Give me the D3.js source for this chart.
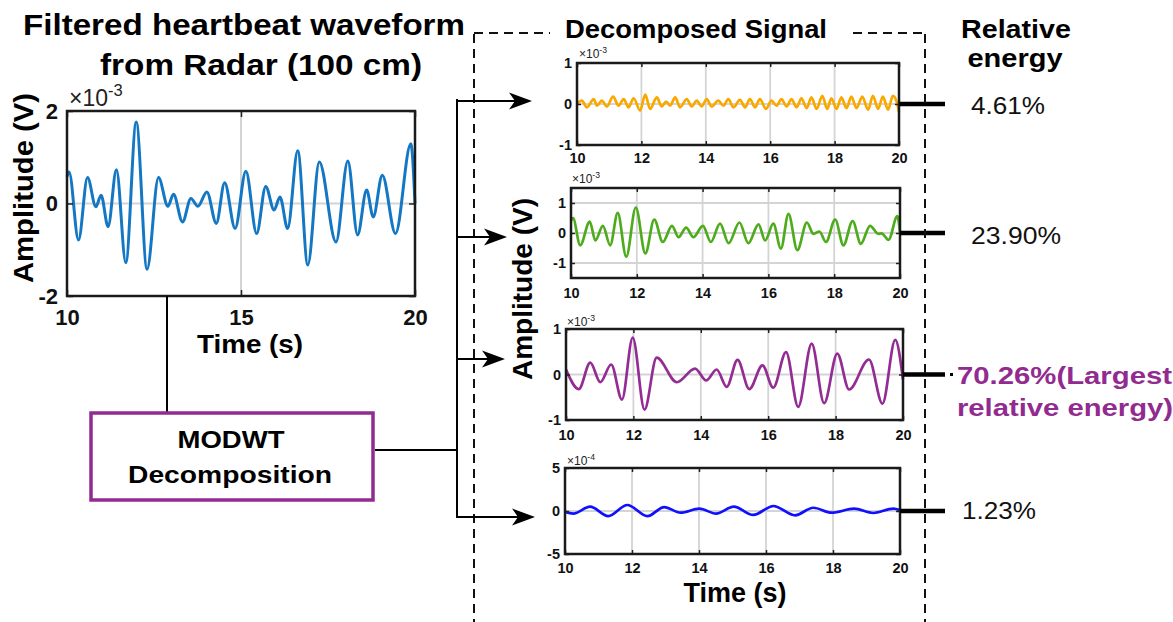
<!DOCTYPE html>
<html>
<head>
<meta charset="utf-8">
<script src="https://cdn.jsdelivr.net/npm/d3@7/dist/d3.min.js"></script>
<style>
  html, body { margin: 0; padding: 0; background: #fff; }
  svg { display: block; font-family: "Liberation Sans", Arial, Helvetica, sans-serif; }
</style>
</head>
<body>
<svg id="fig" width="1173" height="622"></svg>
<script>
// ---- Filtered radar heartbeat waveform (amplitude in units of 1e-3 V) ----
const rawTime = [10.00,10.06,10.33,10.59,10.83,10.98,11.18,11.42,11.69,11.99,12.30,12.63,12.90,13.06,13.32,13.56,13.76,14.02,14.29,14.53,14.83,15.14,15.45,15.71,15.95,16.12,16.34,16.63,16.92,17.25,17.73,18.07,18.35,18.61,18.80,19.06,19.44,19.88,20.00];
const rawAmp  = [0.58,0.68,-0.79,0.56,-0.07,0.18,-0.50,0.73,-1.28,1.76,-1.42,0.56,-0.06,0.20,-0.40,0.11,-0.06,0.25,-0.43,0.45,-0.54,0.70,-0.65,0.37,-0.14,0.14,-0.54,1.14,-1.33,0.90,-0.83,0.92,-0.68,0.29,-0.29,0.61,-0.65,1.29,0.00];

// ---- MODWT components (turning points) ----
// level A, units of 1e-3 V
const compATime = [10.00,10.15,10.31,10.52,10.62,10.77,10.93,11.12,11.29,11.45,11.60,11.76,11.96,12.12,12.27,12.48,12.63,12.77,12.89,13.05,13.20,13.41,13.56,13.72,13.87,14.03,14.18,14.39,14.55,14.70,14.86,15.06,15.22,15.37,15.53,15.68,15.87,16.04,16.20,16.35,16.51,16.66,16.82,16.97,17.13,17.28,17.44,17.62,17.77,17.90,18.06,18.21,18.37,18.52,18.68,18.86,19.04,19.19,19.35,19.50,19.66,19.81,19.93,20.00];
const compAAmp  = [0,0.08,-0.08,0.12,-0.04,0.08,-0.06,0.18,-0.04,0.12,-0.08,0.14,-0.16,0.23,-0.12,0.16,-0.06,0.06,-0.04,0.16,-0.08,0.12,-0.06,0.08,-0.06,0.12,-0.06,0.08,-0.04,0.12,-0.08,0.10,-0.08,0.12,-0.08,0.12,-0.12,0.08,-0.04,0.12,-0.06,0.12,-0.08,0.14,-0.10,0.16,-0.12,0.20,-0.12,0.14,-0.12,0.16,-0.10,0.18,-0.10,0.18,-0.14,0.20,-0.12,0.18,-0.14,0.20,0.05,-0.20];
// level B, units of 1e-3 V
const compBTime = [10.00,10.06,10.28,10.57,10.74,10.97,11.19,11.42,11.68,11.97,12.26,12.53,12.79,13.07,13.27,13.50,13.72,14.01,14.25,14.53,14.79,15.12,15.39,15.70,15.90,16.15,16.38,16.61,16.88,17.17,17.37,17.55,17.75,18.03,18.28,18.56,18.81,19.09,19.34,19.44,19.65,19.92,20.00];
const compBAmp  = [0.40,0.50,-0.41,0.38,-0.25,0.24,-0.41,0.67,-0.79,0.85,-0.68,0.45,-0.30,0.24,-0.14,0.18,-0.14,0.24,-0.30,0.31,-0.34,0.35,-0.34,0.29,-0.25,0.31,-0.52,0.64,-0.57,0.35,-0.03,0.05,-0.30,0.45,-0.41,0.40,-0.36,0.24,-0.03,-0.01,-0.23,0.56,0.02];
// level C, units of 1e-3 V
const compCTime = [10.00,10.38,10.72,11.02,11.34,11.66,11.98,12.33,12.69,13.29,13.83,14.16,14.47,14.77,15.09,15.44,15.83,16.15,16.53,16.89,17.29,17.66,18.05,18.40,18.99,19.39,19.77,20.00];
const compCAmp  = [0.11,-0.32,0.26,-0.17,0.22,-0.55,0.81,-0.77,0.37,-0.17,0.13,-0.13,0.11,-0.27,0.32,-0.32,0.20,-0.29,0.49,-0.71,0.68,-0.63,0.46,-0.33,0.33,-0.64,0.76,-0.11];
// level D, units of 1e-4 V
const compDTime = [10.00,10.25,10.75,11.29,11.86,12.46,12.96,13.45,14.01,14.51,15.04,15.62,16.22,16.87,17.41,17.96,18.63,19.20,19.80,20.00];
const compDAmp  = [-0.1,-0.3,0.5,-0.6,0.7,-0.6,0.46,-0.2,0.27,-0.3,0.5,-0.46,0.58,-0.5,0.38,-0.2,0.27,-0.23,0.27,0.1];

// relative energy of each component
const energyLabels = ["4.61%", "23.90%", "70.26%", "1.23%"];

// axis ticks
const rawXTicks = [10, 15, 20];
const rawYTicks = [-2, 0, 2];
const compXTicks = [10, 12, 14, 16, 18, 20];
const compYTicksA = [-1, 0, 1];
const compYTicksB = [-1, 0, 1];
const compYTicksC = [-1, 0, 1];
const compYTicksD = [-5, 0, 5];

const FONT = '"Liberation Sans", Arial, Helvetica, sans-serif';
const svg = d3.select("#fig");
const PURPLE = "#922b8f";

function drawPanel(p) {
  const x = d3.scaleLinear().domain([10, 20]).range([p.x0, p.x1]);
  const y = d3.scaleLinear().domain(p.dom).range([p.y1, p.y0]);
  const g = svg.append("g");

  // grid
  g.selectAll("line.vg").data(p.xt.filter(v => v > 10 && v < 20)).join("line")
    .attr("x1", d => x(d)).attr("x2", d => x(d))
    .attr("y1", p.y0).attr("y2", p.y1)
    .attr("stroke", "#d4d4d4").attr("stroke-width", p.gridW);
  g.selectAll("line.hg").data(p.yt.filter(v => v > p.dom[0] && v < p.dom[1])).join("line")
    .attr("x1", p.x0).attr("x2", p.x1)
    .attr("y1", d => y(d)).attr("y2", d => y(d))
    .attr("stroke", "#d4d4d4").attr("stroke-width", p.gridW);

  // signal
  const line = d3.line().x(d => x(d[0])).y(d => y(d[1])).curve(d3.curveMonotoneX);
  g.append("path").datum(d3.zip(p.t, p.v))
    .attr("d", line).attr("fill", "none")
    .attr("stroke", p.color).attr("stroke-width", p.lineW)
    .attr("stroke-linejoin", "round");

  const fmt = d => String(d);
  const xPad = p.xLabY - p.y1 - 0.352 * p.fs;

  const bx = g.append("g").attr("transform", `translate(0,${p.y1})`)
    .call(d3.axisBottom(x).tickValues(p.xt).tickFormat(fmt).tickSize(-p.tk).tickPadding(xPad));
  const tx = g.append("g").attr("transform", `translate(0,${p.y0})`)
    .call(d3.axisTop(x).tickValues(p.xt).tickFormat("").tickSize(-p.tk));
  const ly = g.append("g").attr("transform", `translate(${p.x0},0)`)
    .call(d3.axisLeft(y).tickValues(p.yt).tickFormat(fmt).tickSize(-p.tk).tickPadding(p.yPad));
  const ry = g.append("g").attr("transform", `translate(${p.x1},0)`)
    .call(d3.axisRight(y).tickValues(p.yt).tickFormat("").tickSize(-p.tk));

  [bx, tx, ly, ry].forEach(a => {
    a.select(".domain").remove();
    a.selectAll(".tick line").attr("stroke", "#222").attr("stroke-width", 1.5);
    a.selectAll("text").attr("font-family", FONT).attr("font-size", p.fs)
      .attr("font-weight", "bold").attr("fill", "#111");
  });

  // frame
  g.append("rect").attr("x", p.x0).attr("y", p.y0)
    .attr("width", p.x1 - p.x0).attr("height", p.y1 - p.y0)
    .attr("fill", "none").attr("stroke", "#1a1a1a").attr("stroke-width", p.boxW);

  // exponent
  const ex = g.append("text").attr("x", p.expX).attr("y", p.expY)
    .attr("font-family", FONT).attr("font-size", p.expFs).attr("fill", "#222");
  ex.append("tspan").text("\u00d710");
  ex.append("tspan").attr("dy", -p.expFs * 0.45).attr("font-size", p.expFs * 0.72).text(p.exp);

  return { x, y };
}

// ---- left: filtered waveform ----
drawPanel({
  t: rawTime, v: rawAmp, color: "#1377c4", lineW: 3,
  x0: 67, x1: 415, y0: 111, y1: 296, dom: [-2, 2],
  xt: rawXTicks, yt: rawYTicks, fs: 22, tk: 6, xLabY: 317, yPad: 9,
  boxW: 2.5, gridW: 2, exp: "-3", expX: 69, expY: 106, expFs: 23
});

svg.append("text").attr("x", 244).attr("y", 35).attr("text-anchor", "middle")
  .attr("font-family", FONT).attr("font-weight", "bold").attr("font-size", 29)
  .attr("textLength", 442).attr("lengthAdjust", "spacingAndGlyphs")
  .text("Filtered heartbeat waveform");
svg.append("text").attr("x", 261).attr("y", 75).attr("text-anchor", "middle")
  .attr("font-family", FONT).attr("font-weight", "bold").attr("font-size", 29)
  .attr("textLength", 322).attr("lengthAdjust", "spacingAndGlyphs")
  .text("from Radar (100 cm)");

svg.append("text").attr("transform", "translate(33,188) rotate(-90)")
  .attr("text-anchor", "middle").attr("font-family", FONT).attr("font-weight", "bold")
  .attr("font-size", 28).attr("textLength", 190).attr("lengthAdjust", "spacingAndGlyphs")
  .text("Amplitude (V)");
svg.append("text").attr("x", 250).attr("y", 353).attr("text-anchor", "middle")
  .attr("font-family", FONT).attr("font-weight", "bold").attr("font-size", 26)
  .attr("textLength", 106).attr("lengthAdjust", "spacingAndGlyphs")
  .text("Time (s)");

// ---- right: decomposed components ----
const compPanels = [
  { t: compATime, v: compAAmp, color: "#f9a800", x0: 577, x1: 899, y0: 63, y1: 145, dom: [-1, 1],
    yt: compYTicksA, xLabY: 158, exp: "-3", expX: 579, expY: 58 },
  { t: compBTime, v: compBAmp, color: "#4eac1c", x0: 571, x1: 900, y0: 188, y1: 278, dom: [-1.5, 1.5],
    yt: compYTicksB, xLabY: 293, exp: "-3", expX: 572, expY: 183 },
  { t: compCTime, v: compCAmp, color: "#932c93", x0: 566, x1: 903, y0: 329, y1: 420, dom: [-1, 1],
    yt: compYTicksC, xLabY: 435, exp: "-3", expX: 567, expY: 326 },
  { t: compDTime, v: compDAmp, color: "#1010ff", x0: 565, x1: 900, y0: 468, y1: 554, dom: [-5, 5],
    yt: compYTicksD, xLabY: 568, exp: "-4", expX: 567, expY: 465 }
];

const energyY = [114, 244, 384, 519];
const energyX = [971, 971, 957, 962];
const energyW = [74, 90, 0, 74];

compPanels.forEach((cp, i) => {
  const s = drawPanel(Object.assign({
    xt: compXTicks, fs: 14.5, tk: 4, yPad: 5, lineW: 2.7, boxW: 2.5, gridW: 1.8, expFs: 12
  }, cp));
  // connector from the zero line to the energy label
  const zy = s.y(0);
  svg.append("line").attr("x1", cp.x1).attr("x2", 945).attr("y1", zy).attr("y2", zy)
    .attr("stroke", "#000").attr("stroke-width", 4.5);
  if (i === 2) {
    svg.append("text").attr("x", energyX[i]).attr("y", energyY[i])
      .attr("font-family", FONT).attr("font-weight", "bold").attr("font-size", 24)
      .attr("fill", PURPLE).attr("textLength", 215).attr("lengthAdjust", "spacingAndGlyphs")
      .text(energyLabels[i] + "(Largest");
    svg.append("text").attr("x", energyX[i]).attr("y", energyY[i] + 32)
      .attr("font-family", FONT).attr("font-weight", "bold").attr("font-size", 24)
      .attr("fill", PURPLE).attr("textLength", 216).attr("lengthAdjust", "spacingAndGlyphs")
      .text("relative energy)");
    svg.append("rect").attr("x", 950).attr("y", zy - 1.5).attr("width", 3).attr("height", 3).attr("fill", "#000");
  } else {
    svg.append("text").attr("x", energyX[i]).attr("y", energyY[i])
      .attr("font-family", FONT).attr("font-size", 23)
      .attr("textLength", energyW[i]).attr("lengthAdjust", "spacingAndGlyphs")
      .attr("fill", "#111").text(energyLabels[i]);
  }
});

svg.append("text").attr("transform", "translate(532,289) rotate(-90)")
  .attr("text-anchor", "middle").attr("font-family", FONT).attr("font-weight", "bold")
  .attr("font-size", 27).attr("textLength", 182).attr("lengthAdjust", "spacingAndGlyphs")
  .text("Amplitude (V)");
svg.append("text").attr("x", 735).attr("y", 602).attr("text-anchor", "middle")
  .attr("font-family", FONT).attr("font-weight", "bold").attr("font-size", 27)
  .text("Time (s)");

// ---- dashed frame round the decomposed signals ----
const dash = "9,6";
const frame = svg.append("g").attr("stroke", "#111").attr("stroke-width", 2)
  .attr("stroke-dasharray", dash).attr("fill", "none");
frame.append("line").attr("x1", 474).attr("x2", 474).attr("y1", 34).attr("y2", 622);
frame.append("line").attr("x1", 925).attr("x2", 925).attr("y1", 34).attr("y2", 622);
frame.append("line").attr("x1", 474).attr("x2", 550).attr("y1", 33).attr("y2", 33);
frame.append("line").attr("x1", 853).attr("x2", 925).attr("y1", 33).attr("y2", 33);
svg.append("text").attr("x", 696).attr("y", 38).attr("text-anchor", "middle")
  .attr("font-family", FONT).attr("font-weight", "bold").attr("font-size", 25)
  .attr("textLength", 262).attr("lengthAdjust", "spacingAndGlyphs")
  .text("Decomposed Signal");

svg.append("text").attr("x", 1016).attr("y", 38).attr("text-anchor", "middle")
  .attr("font-family", FONT).attr("font-weight", "bold").attr("font-size", 26)
  .attr("textLength", 110).attr("lengthAdjust", "spacingAndGlyphs").text("Relative");
svg.append("text").attr("x", 1015).attr("y", 67).attr("text-anchor", "middle")
  .attr("font-family", FONT).attr("font-weight", "bold").attr("font-size", 26)
  .attr("textLength", 95).attr("lengthAdjust", "spacingAndGlyphs").text("energy");

// ---- MODWT block and routing ----
svg.append("line").attr("x1", 167).attr("x2", 167).attr("y1", 296).attr("y2", 413)
  .attr("stroke", "#000").attr("stroke-width", 2);
svg.append("rect").attr("x", 91).attr("y", 413).attr("width", 282).attr("height", 87)
  .attr("fill", "#fff").attr("stroke", PURPLE).attr("stroke-width", 3.5);
svg.append("text").attr("x", 231).attr("y", 448).attr("text-anchor", "middle")
  .attr("font-family", FONT).attr("font-weight", "bold").attr("font-size", 23)
  .attr("textLength", 107).attr("lengthAdjust", "spacingAndGlyphs").text("MODWT");
svg.append("text").attr("x", 230).attr("y", 483).attr("text-anchor", "middle")
  .attr("font-family", FONT).attr("font-weight", "bold").attr("font-size", 23)
  .attr("textLength", 204).attr("lengthAdjust", "spacingAndGlyphs").text("Decomposition");

svg.append("line").attr("x1", 375).attr("x2", 457).attr("y1", 450).attr("y2", 450)
  .attr("stroke", "#000").attr("stroke-width", 2);
svg.append("line").attr("x1", 457).attr("x2", 457).attr("y1", 99).attr("y2", 518)
  .attr("stroke", "#000").attr("stroke-width", 2);

const arrows = [[101, 532], [237, 507], [359, 505], [517, 535]];
arrows.forEach(([ay, tip]) => {
  svg.append("line").attr("x1", 457).attr("x2", tip - 10).attr("y1", ay).attr("y2", ay)
    .attr("stroke", "#000").attr("stroke-width", 2);
  svg.append("path")
    .attr("d", `M${tip},${ay} L${tip - 23},${ay - 8.5} L${tip - 17},${ay} L${tip - 23},${ay + 8.5} Z`)
    .attr("fill", "#000");
});
</script>
</body>
</html>
